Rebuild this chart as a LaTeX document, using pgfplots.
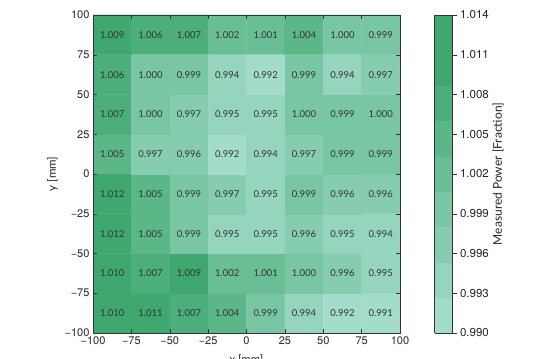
\documentclass[border=0pt]{standalone}
\usepackage{pgfplots}
\usepackage{pgfplotstable}
\pgfplotsset{compat=1.18}
\usepackage{fontspec}
\setmainfont{Lato}
\newfontfamily\tickfont{TeX Gyre Heros}
\pgfplotstableread{
x y v
-87.5 -87.5 1.010
-62.5 -87.5 1.011
-37.5 -87.5 1.007
-12.5 -87.5 1.004
12.5 -87.5 0.999
37.5 -87.5 0.994
62.5 -87.5 0.992
87.5 -87.5 0.991
-87.5 -62.5 1.010
-62.5 -62.5 1.007
-37.5 -62.5 1.009
-12.5 -62.5 1.002
12.5 -62.5 1.001
37.5 -62.5 1.000
62.5 -62.5 0.996
87.5 -62.5 0.995
-87.5 -37.5 1.012
-62.5 -37.5 1.005
-37.5 -37.5 0.999
-12.5 -37.5 0.995
12.5 -37.5 0.995
37.5 -37.5 0.996
62.5 -37.5 0.995
87.5 -37.5 0.994
-87.5 -12.5 1.012
-62.5 -12.5 1.005
-37.5 -12.5 0.999
-12.5 -12.5 0.997
12.5 -12.5 0.995
37.5 -12.5 0.999
62.5 -12.5 0.996
87.5 -12.5 0.996
-87.5 12.5 1.005
-62.5 12.5 0.997
-37.5 12.5 0.996
-12.5 12.5 0.992
12.5 12.5 0.994
37.5 12.5 0.997
62.5 12.5 0.999
87.5 12.5 0.999
-87.5 37.5 1.007
-62.5 37.5 1.000
-37.5 37.5 0.997
-12.5 37.5 0.995
12.5 37.5 0.995
37.5 37.5 1.000
62.5 37.5 0.999
87.5 37.5 1.000
-87.5 62.5 1.006
-62.5 62.5 1.000
-37.5 62.5 0.999
-12.5 62.5 0.994
12.5 62.5 0.992
37.5 62.5 0.999
62.5 62.5 0.994
87.5 62.5 0.997
-87.5 87.5 1.009
-62.5 87.5 1.006
-37.5 87.5 1.007
-12.5 87.5 1.002
12.5 87.5 1.001
37.5 87.5 1.004
62.5 87.5 1.000
87.5 87.5 0.999
}\datatable
\begin{document}
\begin{tikzpicture}
\begin{axis}[
  at={(0,0)}, anchor=south west,
  width=307pt, height=318pt, scale only axis,
  xmin=-100, xmax=100, ymin=-100, ymax=100,
  xtick={-100,-75,-50,-25,0,25,50,75,100},
  ytick={-100,-75,-50,-25,0,25,50,75,100},
  xticklabels={−100,−75,−50,−25,0,25,50,75,100},
  yticklabels={−100,−75,−50,−25,0,25,50,75,100},
  tick align=inside, major tick length=4pt,
  tick label style={font=\tickfont\fontsize{11}{13}\selectfont, text=black!85},
  xlabel={x [mm]}, ylabel={y [mm]},
  label style={font=\fontsize{11.5}{13}\selectfont, text=black!85},
  xlabel style={yshift=-3pt},
  axis line style={black!80},
  every tick/.style={black!80},
  axis on top,
  colormap={greens}{rgb255=(163,220,202) rgb255=(149,213,189) rgb255=(134,205,176) rgb255=(120,198,163) rgb255=(105,190,149) rgb255=(91,183,136) rgb255=(76,175,123) rgb255=(62,168,110) rgb255=(62,168,110)},
  colormap access=piecewise constant,
  point meta min=0.990, point meta max=1.014,
  colorbar,
  colorbar style={
    at={(parent axis.north east)}, anchor=north west, xshift=26pt,
    width=18pt,
    ytick={0.990,0.993,0.996,0.999,1.002,1.005,1.008,1.011,1.014},
    yticklabels={0.990,0.993,0.996,0.999,1.002,1.005,1.008,1.011,1.014},
    ytick pos=right, tick align=outside, major tick length=4pt,
    yticklabel style={font=\tickfont\fontsize{11.5}{13}\selectfont, text=black!85},
    ylabel={Measured Power [Fraction]},
    ylabel style={font=\fontsize{12}{14}\selectfont, text=black!85},
    ylabel shift=-3pt,
    axis line style={black!80},
  },
]
\addplot[matrix plot*, mesh/cols=8, point meta=explicit] table[x=x, y=y, meta=v] {\datatable};
\addplot[draw=none, mark=none, point meta=explicit symbolic,
  nodes near coords={\pgfplotspointmeta}, nodes near coords align=center,
  every node near coord/.style={font=\fontsize{9.5}{11}\selectfont, text=black!80, anchor=center}]
  table[x=x, y=y, meta=v] {\datatable};
\end{axis}
\pgfresetboundingbox
\path[use as bounding box] (-93pt,-25pt) rectangle (460pt,333pt);
\end{tikzpicture}
\end{document}
